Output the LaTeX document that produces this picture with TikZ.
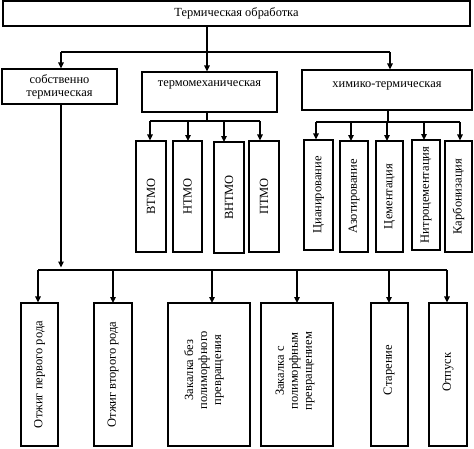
\documentclass[tikz,border=0pt]{standalone}
\usepackage{fontspec}
\setmainfont{Liberation Serif}
\usetikzlibrary{arrows.meta}
\begin{document}
\begin{tikzpicture}[x=1pt,y=-1pt,
  ln/.style={line width=1.4pt},
  arr/.style={line width=1.4pt,-{Triangle[length=6pt,width=5.5pt]}},
  box/.style={draw,line width=1.1pt,inner sep=0pt,align=center,font=\fontsize{12.4}{12.8}\selectfont},
  vbox/.style={draw,line width=1.1pt,inner sep=0pt},
  vt/.style={rotate=90,align=center,inner sep=0pt,font=\fontsize{12.5}{14}\selectfont}
]
\useasboundingbox (0,0) rectangle (474,448);
% top
\node[box,minimum width=467pt,minimum height=25pt] (t) at (236.5,13.5) {Термическая обработка};
% level 1
\node[box,minimum width=115pt,minimum height=35pt] (b1) at (59.5,86.5) {собственно\\термическая};
\node[box,minimum width=135pt,minimum height=40pt] (b2) at (209.5,92) {\raisebox{6pt}[0pt][0pt]{термомеханическая}};
\node[box,minimum width=170pt,minimum height=40pt] (b3) at (387,90) {\raisebox{3pt}[0pt][0pt]{химико-термическая}};
\coordinate (s0) at (207,52);
\draw[ln] (t.south -| s0) -- (s0);
\coordinate (h1L) at (61,52);
\coordinate (h1R) at (390,52);
\draw[ln] (h1L) -- (h1R);
\draw[arr] (h1L) -- (h1L |- b1.north);
\draw[arr] (s0) -- (s0 |- b2.north);
\draw[arr] (h1R) -- (h1R |- b3.north);
% thermomechanical
\coordinate (s2) at (207,121);
\draw[ln] (b2.south -| s2) -- (s2);
\coordinate (h2L) at (150,121);
\coordinate (h2R) at (260,121);
\draw[ln] (h2L) -- (h2R);
\node[vbox,minimum width=30pt,minimum height=111pt] (m1) at (151,196.5) {};
\node[vbox,minimum width=29pt,minimum height=111pt] (m2) at (187.5,196.5) {};
\node[vbox,minimum width=30pt,minimum height=111pt] (m3) at (229,197.5) {};
\node[vbox,minimum width=30pt,minimum height=111pt] (m4) at (264,196.5) {};
\node[vt] (tm1) at (m1) {ВТМО};
\node[vt] (tm2) at (m2) {НТМО};
\node[vt] (tm3) at (m3) {ВНТМО};
\node[vt] (tm4) at (m4) {ПТМО};
\draw[arr] (h2L) -- (h2L |- m1.north);
\draw[arr] (188,121) -- (188,141);
\draw[arr] (224,121) -- (224,142);
\draw[arr] (h2R) -- (h2R |- m4.north);
% chemical
\coordinate (s3) at (388,122);
\draw[ln] (b3.south -| s3) -- (s3);
\coordinate (h3L) at (316,122);
\coordinate (h3R) at (460,122);
\draw[ln] (h3L) -- (h3R);
\node[vbox,minimum width=29pt,minimum height=110pt] (c1) at (318.5,195) {};
\node[vbox,minimum width=28pt,minimum height=111pt] (c2) at (354,196.5) {};
\node[vbox,minimum width=27pt,minimum height=111pt] (c3) at (389.5,196.5) {};
\node[vbox,minimum width=28pt,minimum height=110pt] (c4) at (426,195) {};
\node[vbox,minimum width=27pt,minimum height=111pt] (c5) at (458.5,196.5) {};
\node[vt] (tc1) at (c1) {Цианирование};
\node[vt] (tc2) at (c2) {Азотирование};
\node[vt] (tc3) at (c3) {Цементация};
\node[vt] (tc4) at (c4) {Нитроцементация};
\node[vt] (tc5) at (c5) {Карбонизация};
\draw[arr] (h3L) -- (h3L |- c1.north);
\draw[arr] (351,122) -- (351,141);
\draw[arr] (387,122) -- (387,141);
\draw[arr] (424,122) -- (424,140);
\draw[arr] (h3R) -- (h3R |- c5.north);
% own thermal
\coordinate (s1) at (61,270);
\draw[arr,shorten >=2.5pt] (b1.south -| s1) -- (s1);
\coordinate (h4L) at (38,270);
\coordinate (h4R) at (447,270);
\draw[ln] (h4L) -- (h4R);
\node[vbox,minimum width=37pt,minimum height=143pt] (d1) at (39.5,374.5) {};
\node[vbox,minimum width=38pt,minimum height=143pt] (d2) at (113,374.5) {};
\node[vbox,minimum width=82pt,minimum height=143pt] (d3) at (209,374.5) {};
\node[vbox,minimum width=72pt,minimum height=143pt] (d4) at (297,374.5) {};
\node[vbox,minimum width=37pt,minimum height=143pt] (d5) at (389.5,374.5) {};
\node[vbox,minimum width=38pt,minimum height=143pt] (d6) at (448,374.5) {};
\node[vt] (td1) at (d1) {Отжиг первого рода};
\node[vt] (td2) at (d2) {Отжиг второго рода};
\node[vt] (td3) at (204,370) {Закалка без\\полиморфного\\превращения};
\node[vt] (td4) at (295,371) {Закалка с\\полиморфным\\превращением};
\node[vt] (td5) at (389,370) {Старение};
\node[vt] (td6) at (448,372) {Отпуск};
\draw[arr] (h4L) -- (h4L |- d1.north);
\draw[arr] (113,270) -- (113,303);
\draw[arr] (212,270) -- (212,303);
\draw[arr] (297,270) -- (297,303);
\draw[arr] (389,270) -- (389,303);
\draw[arr] (h4R) -- (h4R |- d6.north);
\end{tikzpicture}
\end{document}
